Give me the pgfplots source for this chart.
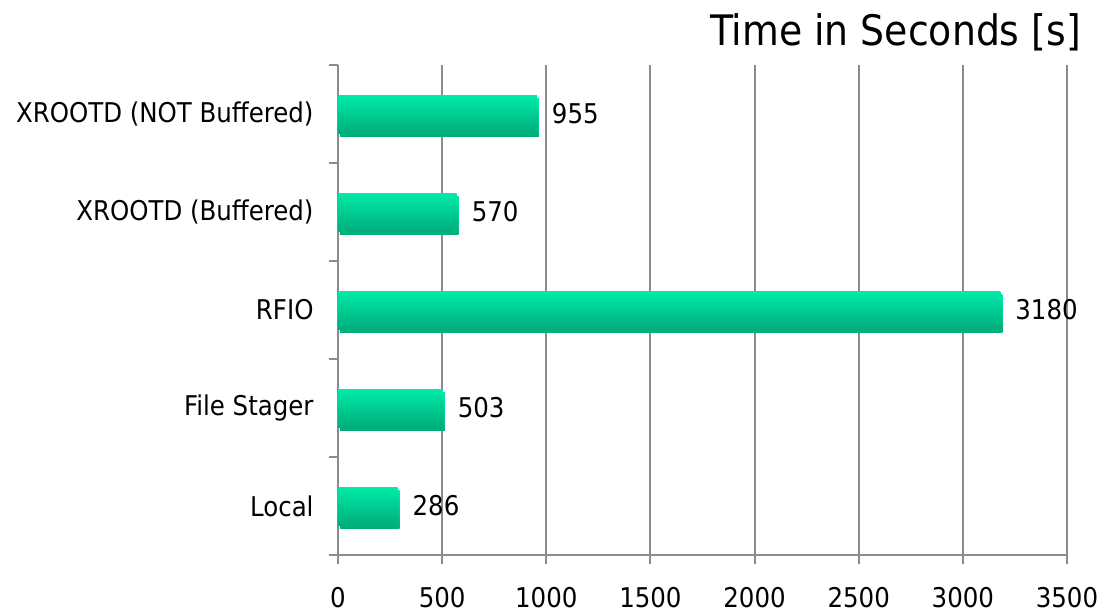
\documentclass[border=0pt]{standalone}
\usepackage{fontspec}
\setmainfont{DejaVu Sans Condensed}
\usepackage{pgfplots}
\pgfplotsset{compat=1.18}
\definecolor{bartop}{HTML}{00EBA9}
\definecolor{barbot}{HTML}{00AE7C}
\definecolor{gridgray}{HTML}{8C8C8C}
\pgfplotsset{mybar/.style={draw=none, top color=bartop, bottom color=barbot, bar shift=0pt,
  preaction={fill=black!18, transform canvas={xshift=1pt, yshift=-1.5pt}}}}
\begin{document}
\begin{tikzpicture}
\path[use as bounding box] (0,0) rectangle (555pt,-305.5pt);
\begin{axis}[
  at={(169pt,-277.5pt)}, anchor=south west,
  scale only axis, width=364.5pt, height=245pt,
  xbar, bar width=19pt,
  xmin=0, xmax=3500, ymin=-0.5, ymax=4.5,
  xtick={0,500,...,3500},
  ytick={-0.5,0.5,...,4.5}, yticklabels={},
  extra y ticks={0,1,2,3,4},
  extra y tick labels={Local,File Stager,RFIO,XROOTD (Buffered),XROOTD (NOT Buffered)},
  extra y tick style={tick style={draw=none}},
  axis lines=left,
  axis line style={-, gridgray, line width=1.2pt},
  x axis line style={shorten <=-4.5pt},
  tick align=outside, major tick length=4.5pt,
  tick style={gridgray, line width=1pt},
  xmajorgrids, grid style={gridgray, line width=1pt},
  /pgf/number format/assume math mode=true,
  /pgf/number format/1000 sep={},
  tick label style={font=\fontsize{13.6}{16}\selectfont, text=black},
  xticklabel style={anchor=base, yshift=-21.5pt},
  yticklabel style={anchor=east, xshift=-4.2pt},
  nodes near coords,
  every node near coord/.append style={font=\fontsize{13.6}{16}\selectfont, anchor=west, xshift=4pt, text=black},
  clip=false,
]
\addplot[mybar] coordinates {(286,0)};
\addplot[mybar] coordinates {(503,1)};
\addplot[mybar] coordinates {(3180,2)};
\addplot[mybar] coordinates {(570,3)};
\addplot[mybar] coordinates {(955,4)};
\end{axis}
\node[anchor=base east, font=\fontsize{21}{24}\selectfont] at (544pt,-22.5pt) {Time in Seconds [s]};
\end{tikzpicture}
\end{document}
